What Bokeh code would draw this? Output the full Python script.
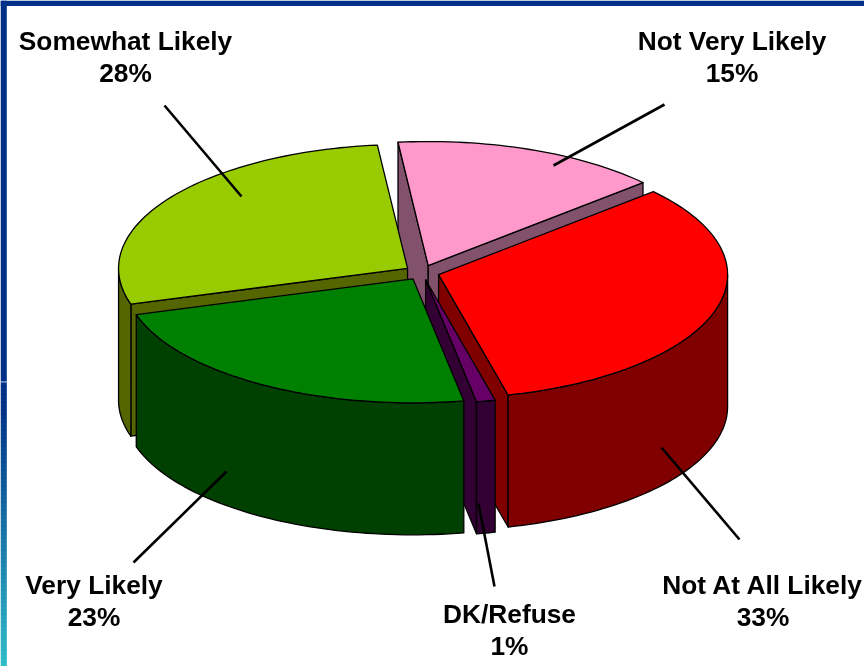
import math
from bokeh.plotting import figure
from bokeh.models import Range1d
from bokeh.core.properties import value
from bokeh.embed import file_html
from bokeh.resources import INLINE

categories = ["Not Very Likely", "Not At All Likely", "DK/Refuse", "Very Likely", "Somewhat Likely"]
shares = [15.0, 32.8, 1.05, 23.15, 28.0]
top_colors = ["#FF99CC", "#FF0000", "#660066", "#008000", "#99CC00"]
side_colors = ["#82526C", "#800000", "#330033", "#004000", "#556600"]
draw_order = [0, 4, 1, 2, 3]

# pie projection
START_DEG, EXPLODE = -6.0, 0.06
CX, CY, RX, RY, DEPTH = 421.5, 272.0, 289.0, 124.0, 132.0

# label layout: centre x, first baseline y, leader outer end, leader inner end
label_x = [731.5, 762.5, 509, 93.5, 125]
label_y = [40, 584, 613, 584, 40]
leader_outer = [(664, 104), (739, 539), (494, 586), (133, 562), (164, 105)]
leader_inner = [(553, 165), (661, 447), (478, 503), (226, 471), (241, 196)]

p = figure(width=864, height=666, output_backend="svg", toolbar_location=None,
           x_range=Range1d(0, 864), y_range=Range1d(666, 0),
           min_border=0, outline_line_color=None, background_fill_color="white",
           border_fill_color="white", x_axis_location=None, y_axis_location=None)
p.grid.visible = False
p.styles = {"position": "fixed", "left": "0px", "top": "0px"}

# slide frame
navy, teal = (0, 48, 135), (48, 188, 200)
p.quad(left=0, right=864, top=0, bottom=5.6, fill_color="#003087", line_color=None)
p.quad(left=0, right=6.3, top=0, bottom=381, fill_color="#003087", line_color=None)
p.quad(left=0, right=6.3, top=381, bottom=382, fill_color="#5F7FBF", line_color=None)
steps = 71
for i in range(steps):
    t = i / (steps - 1)
    y0 = 382 + (666 - 382) * i / steps
    y1 = 382 + (666 - 382) * (i + 1) / steps
    t2 = max(0.0, (t - 0.08) / 0.92)
    c = tuple(int(round(a + (b - a) * t2)) for a, b in zip(navy, teal))
    p.quad(left=0, right=6.3, top=y0, bottom=y1 + 0.5, fill_color="#%02X%02X%02X" % c, line_color=None)


def pt(ax, ay, deg):
    r = math.radians(deg)
    return ax + RX * math.sin(r), ay - RY * math.cos(r)


def arc(ax, ay, a0, a1):
    n = max(2, int(abs(a1 - a0) / 1.5) + 2)
    return [pt(ax, ay, a0 + (a1 - a0) * k / (n - 1)) for k in range(n)]


total = sum(shares)
bounds = []
acc = START_DEG
for s in shares:
    sweep = 360.0 * s / total
    bounds.append((acc, acc + sweep))
    acc += sweep


def draw(poly, fill):
    xs = [q[0] for q in poly]
    ys = [q[1] for q in poly]
    p.patch(xs, ys, fill_color=fill, line_color="black", line_width=1.3, line_join="round")


for idx in draw_order:
    a0, a1 = bounds[idx]
    mid = math.radians((a0 + a1) / 2)
    ax = CX + EXPLODE * RX * math.sin(mid)
    ay = CY - EXPLODE * RY * math.cos(mid)
    side, top = side_colors[idx], top_colors[idx]
    # radial cut faces that turn toward the viewer
    for ang, sign in ((a0, -1), (a1, 1)):
        if sign * math.sin(math.radians(ang)) > 0:
            e = pt(ax, ay, ang)
            draw([(ax, ay), e, (e[0], e[1] + DEPTH), (ax, ay + DEPTH)], side)
    # outer rim, front half only
    lo, hi = max(a0, 90.0), min(a1, 270.0)
    if hi > lo:
        rim = arc(ax, ay, lo, hi)
        draw(rim + [(q[0], q[1] + DEPTH) for q in reversed(rim)], side)
    draw([(ax, ay)] + arc(ax, ay, a0, a1), top)

for name, share, lx, ly, o, n in zip(categories, shares, label_x, label_y, leader_outer, leader_inner):
    p.line([o[0], n[0]], [o[1], n[1]], line_color="black", line_width=2.6)
    p.text([lx], [ly], text=[name], text_align="center", text_baseline="alphabetic",
           text_font=value("Liberation Sans"), text_font_style="bold", text_font_size="26.3px", text_color="black")
    p.text([lx], [ly + 32], text=[f"{round(share)}%"], text_align="center", text_baseline="alphabetic",
           text_font=value("Liberation Sans"), text_font_style="bold", text_font_size="26.3px", text_color="black")

open("out.html", "w").write(file_html(p, INLINE))
